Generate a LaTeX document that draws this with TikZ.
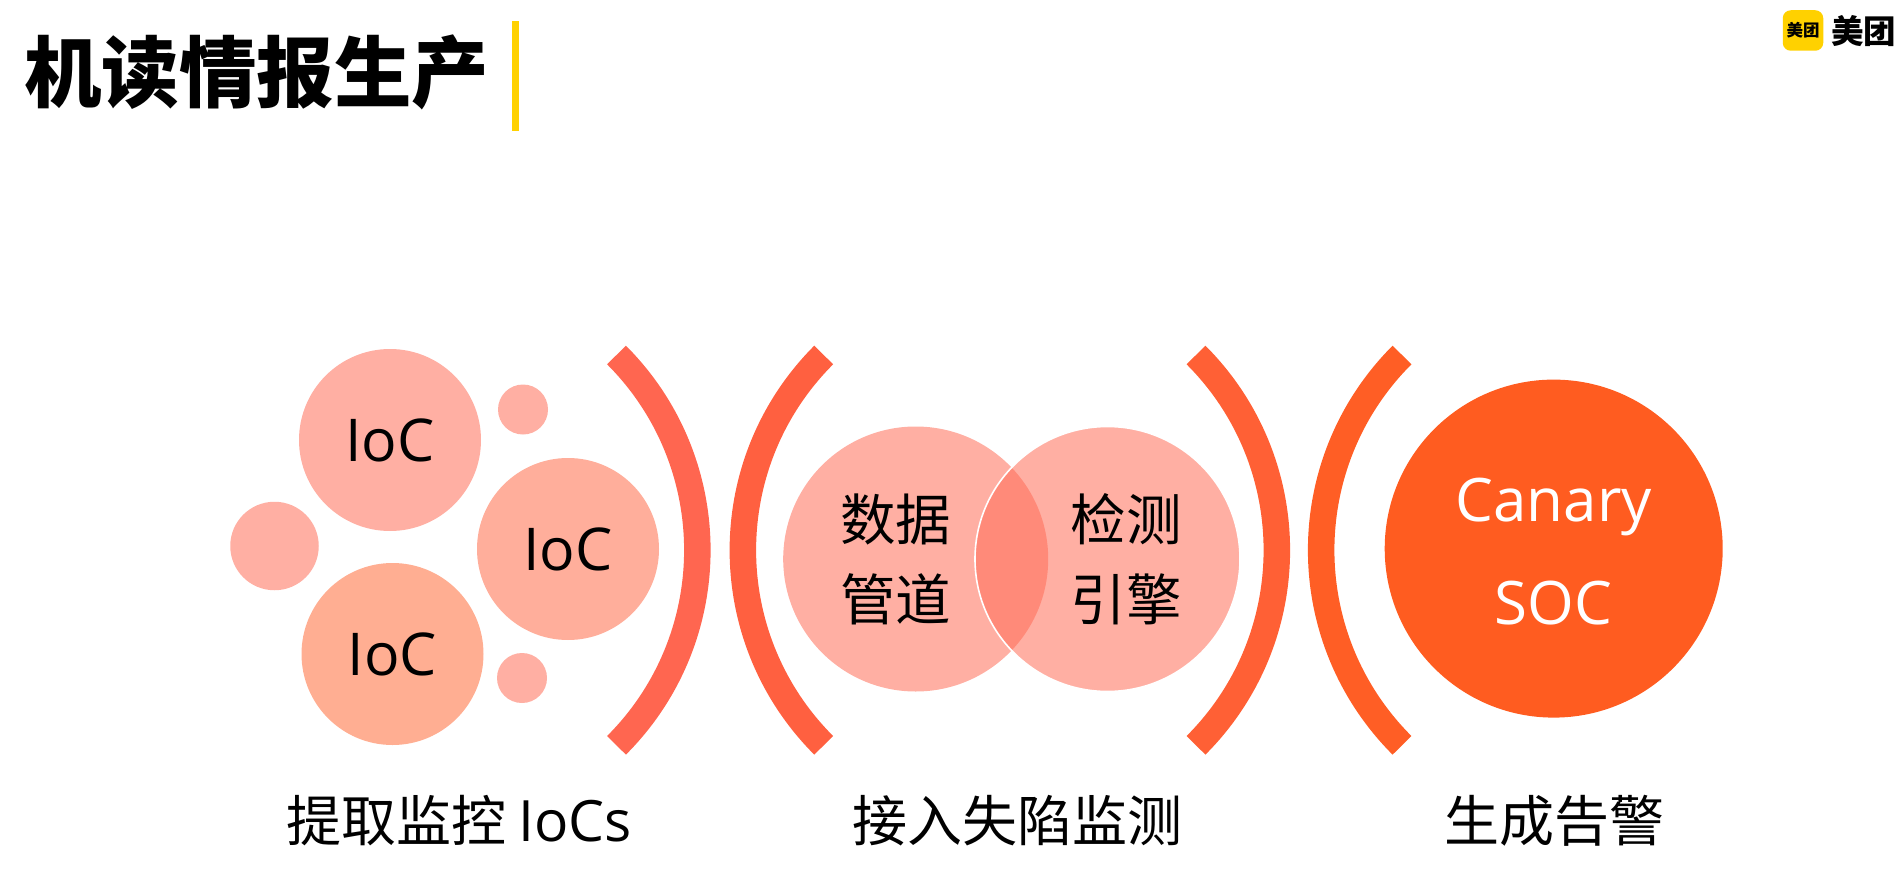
\documentclass[tikz,border=0pt]{standalone}
\usepackage{fontspec}
\setmainfont{Open Sans}
\newfontfamily\cjk{Noto Sans CJK SC}
\definecolor{bubblepink}{HTML}{FFAFA3}
\definecolor{bubblepeach}{HTML}{FFAE9B}
\definecolor{bubbleorange}{HTML}{FFAE92}
\definecolor{vennred}{HTML}{FF6B55}
\definecolor{logoyellow}{HTML}{FFD100}
\definecolor{arcone}{HTML}{FF6650}
\definecolor{arctwo}{HTML}{FF6040}
\definecolor{arcthree}{HTML}{FF6035}
\definecolor{arcfour}{HTML}{FF5E25}
\definecolor{canaryorange}{HTML}{FF5C20}
\tikzset{
  bubble/.style={circle, inner sep=0pt, fill=bubblepink, font=\fontsize{59}{70}\selectfont},
  arcline/.style={line width=26.5pt},
  venn/.style={circle, inner sep=0pt, minimum size=265pt, fill=vennred, fill opacity=.54, text opacity=1},
  venntext/.style={font=\cjk\fontsize{55.5}{80}\selectfont, align=center, inner sep=0pt},
  caption/.style={font=\cjk\fontsize{55}{66}\selectfont, inner sep=0pt}
}
\begin{document}
\begin{tikzpicture}[x=1pt, y=-1pt]
  \useasboundingbox (0,0) rectangle (1899,875);

  % Title and yellow bar
  \node[anchor=west, inner sep=0pt, font=\cjk\bfseries\fontsize{77.5}{90}\selectfont] (title) at (24,72) {机读情报生产};
  \fill[logoyellow] (512,21) rectangle (519,131);

  % Logo top right
  \node[
    fill=logoyellow,
    rounded corners=8pt,
    minimum size=40.5pt,
    inner sep=0pt,
    font=\cjk\bfseries\fontsize{16.5}{18}\selectfont
  ] (logobox) at (1803,30.5) {美团};
  \node[anchor=west, inner sep=0pt, font=\cjk\bfseries\fontsize{32.5}{36}\selectfont] (logotext) at (1831,31) {美团};

  % Left bubbles
  \node[bubble, minimum size=182pt] (ioctop) at (390,440) {IoC};
  \node[bubble, minimum size=182pt, fill=bubblepeach] (iocright) at (568,549) {IoC};
  \node[bubble, minimum size=182pt, fill=bubbleorange] (iocbottom) at (392.5,654) {IoC};
  \node[bubble, minimum size=50pt] (dottop) at (523,409.5) {};
  \node[bubble, minimum size=88.5pt] (dotleft) at (274.5,546) {};
  \node[bubble, minimum size=50pt] (dotbottom) at (522,678) {};

  % Brackets
  \draw[arcline, draw=arcone] (616.5,355) arc[start angle=45, end angle=-45, radius=276pt];
  \draw[arcline, draw=arctwo] (823.7,355) arc[start angle=135, end angle=225, radius=276pt];
  \draw[arcline, draw=arcthree] (1196,355) arc[start angle=45, end angle=-45, radius=276pt];
  \draw[arcline, draw=arcfour] (1402,355) arc[start angle=135, end angle=225, radius=276pt];

  % Overlapping circles
  \node[venn] (vennleft) at (915.7,559) {};
  \node[venn, draw=white, line width=1.6pt, draw opacity=1] (vennright) at (1107.5,559) {};
  \node[venntext] (datatext) at ([xshift=-20pt]vennleft.center) {数据\\管道};
  \node[venntext] (enginetext) at ([xshift=18.5pt]vennright.center) {检测\\引擎};

  % Big circle
  \node[circle, fill=canaryorange, minimum size=338pt, inner sep=0pt] (canary) at (1553.7,548.6) {};
  \node[
    inner sep=0pt,
    text=white,
    align=center,
    font=\fontsize{60}{103}\selectfont
  ] (canarytext) at ([yshift=-2.5pt]canary.center) {Canary\\SOC};

  % Bottom captions
  \node[caption] (captionone) at (459,821) {提取监控 {\rmfamily\fontsize{57}{66}\selectfont IoCs}};
  \node[caption] (captiontwo) at (1017,821) {接入失陷监测};
  \node[caption] (captionthree) at (1554,821) {生成告警};
\end{tikzpicture}
\end{document}
